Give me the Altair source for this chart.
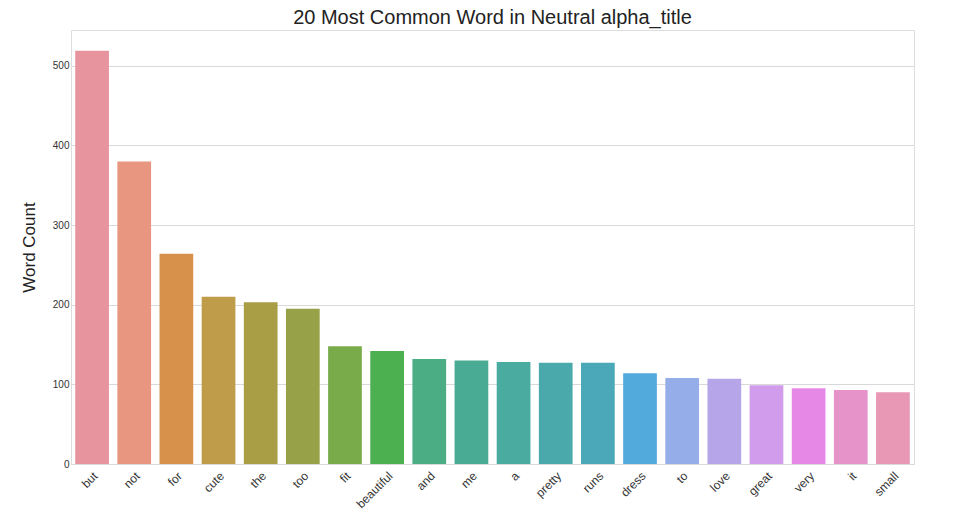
import altair as alt
import pandas as pd

words = ["but", "not", "for", "cute", "the", "too", "fit", "beautiful", "and", "me",
         "a", "pretty", "runs", "dress", "to", "love", "great", "very", "it", "small"]
counts = [519, 380, 264, 210, 203, 195, 148, 142, 132, 130,
          128, 127, 127, 114, 108, 107, 99, 95, 93, 90]
colors = ["#e8949f", "#e8967f", "#d8914a", "#bf9c4a", "#a99d46", "#97a147", "#7aab4a",
          "#4cb050", "#4aad84", "#4aab94", "#4aaba0", "#4aaaab", "#4aa8b8", "#52a9dc",
          "#95aee9", "#b7a5ea", "#d29ced", "#e689e6", "#e693c9", "#e897b5"]

df = pd.DataFrame({"word": words, "count": counts})

chart = (
    alt.Chart(df)
    .mark_bar()
    .encode(
        x=alt.X("word:N", sort=words, title=None,
                scale=alt.Scale(paddingInner=0.2, paddingOuter=0.1),
                axis=alt.Axis(labelAngle=-45, labelFontSize=12, labelColor="#333",
                              ticks=False, domain=False, labelPadding=6)),
        y=alt.Y("count:Q", title="Word Count",
                scale=alt.Scale(domain=[0, 545], nice=False),
                axis=alt.Axis(values=[0, 100, 200, 300, 400, 500], ticks=False,
                              domain=False, titleFontSize=17, titleFontWeight="normal",
                              titleColor="#222", labelColor="#333", labelFontSize=10,
                              gridColor="#d9d9d9", titlePadding=14)),
        color=alt.Color("word:N", sort=words, legend=None,
                        scale=alt.Scale(domain=words, range=colors)),
    )
    .properties(
        width=843, height=434,
        padding={"left": 12, "top": 0, "right": 5, "bottom": 5},
        title=alt.TitleParams("20 Most Common Word in Neutral alpha_title",
                              fontSize=20, fontWeight="normal", color="#222", offset=2),
    )
    .configure_view(stroke="#cccccc")
    .configure(font="Arial")
)

chart.save("out.html", embed_options={"renderer": "svg", "actions": False})
